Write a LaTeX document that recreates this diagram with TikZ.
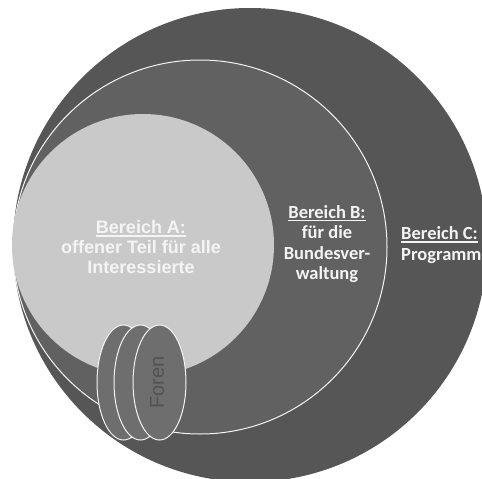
\documentclass[tikz,border=0pt]{standalone}
\usepackage{fontspec}
\setmainfont{Carlito}
\newfontfamily\arialfont{Liberation Sans}
\usetikzlibrary{shapes.geometric}
\definecolor{areaC}{RGB}{86,86,86}
\definecolor{areaB}{RGB}{97,97,97}
\definecolor{areaA}{RGB}{201,201,201}
\definecolor{forum}{RGB}{110,110,110}
\definecolor{forumtext}{RGB}{82,82,82}
\definecolor{softwhite}{RGB}{244,244,244}
\newcommand{\zonehead}[1]{\leavevmode\vtop{\hbox{#1}\kern1.6pt\hrule height1.3pt}}

\begin{document}
\begin{tikzpicture}[x=1pt,y=-1pt,
  zone/.style={circle,inner sep=0pt},
  disc/.style={ellipse,draw=softwhite,line width=1pt,fill=forum,minimum width=53pt,minimum height=115pt,inner sep=0pt},
  zonetext/.style={text=softwhite,align=center,font=\bfseries\fontsize{18.5}{20.5}\selectfont,inner sep=0pt}]
\fill[white] (0,0) rectangle (482,479);
\clip (0,0) rectangle (482,479);
% the three areas
\node[zone,fill=areaC,minimum size=474pt] (bereichC) at (250,245) {};
\node[zone,fill=areaB,draw=softwhite,line width=1pt,minimum size=374pt] (bereichB) at (200,247) {};
\node[zone,fill=areaA,minimum size=262pt] (bereichA) at (143,245) {};
% forums
\node[disc] (forum1) at (123.5,382.5) {};
\node[disc] (forum2) at (140.5,382.5) {};
\node[disc] (forum3) at (159.5,382.5) {};
\node[rotate=90,text=forumtext,font=\arialfont\fontsize{20}{22}\selectfont,inner sep=0pt] (forentext) at (157,382.5) {Foren};
% labels
\node[zonetext,font=\arialfont\bfseries\fontsize{18}{20}\selectfont] (textA) at (141,247) {\zonehead{Bereich A:}\\offener Teil für alle\\Interessierte};
\node[zonetext] (textB) at (327,244) {\zonehead{Bereich B:}\\für die\\Bundesver-\\waltung};
\node[zonetext,align=left,anchor=west] (textC) at (401,245) {\zonehead{Bereich C:}\\Programm};
\end{tikzpicture}
\end{document}
